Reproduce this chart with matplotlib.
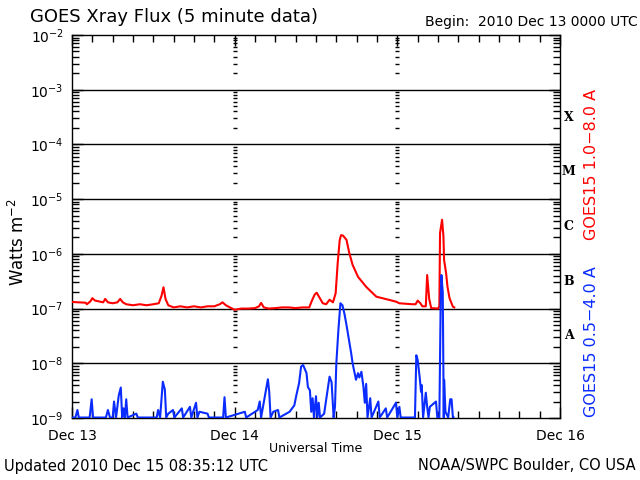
import numpy as np
import matplotlib
matplotlib.use("Agg")
import matplotlib.pyplot as plt
from matplotlib.ticker import LogLocator, FixedLocator, NullFormatter

# hours since 2010 Dec 13 00:00 UTC, flux in W m^-2
F = 1.02e-9  # blue floor (at/below the bottom of the plot)

red_hours = [0, 1, 2, 2.2, 2.7, 3.0, 3.4, 4, 4.6, 4.9, 5.3, 6, 6.7, 7.1, 7.5, 8,
             9, 10, 11, 12, 12.8, 13.2, 13.5, 13.8, 14.2, 15, 16, 17, 18, 19,
             20, 21, 21.8, 22.2, 22.7, 23.3, 24, 25, 26, 27, 27.6, 27.9, 28.3,
             29, 30, 31, 32, 33, 34, 35, 35.4, 35.8, 36.1, 36.5, 37, 37.5, 38,
             38.5, 38.9, 39.2, 39.5, 39.7, 40.0, 40.5, 40.9, 41.4, 42.2, 43.4,
             44.9, 46.8, 47.8, 48.3, 50.2, 50.7, 51.0, 51.4, 51.7, 52.2, 52.4,
             52.7, 53.0, 54.0, 54.2, 54.3, 54.6, 54.8, 54.9, 55.2, 55.4, 55.7,
             56.2, 56.4]
red_flux = [1.32e-7, 1.3e-7, 1.28e-7, 1.2e-7, 1.35e-7, 1.55e-7, 1.4e-7, 1.35e-7,
            1.3e-7, 1.5e-7, 1.3e-7, 1.25e-7, 1.3e-7, 1.5e-7, 1.3e-7, 1.2e-7,
            1.15e-7, 1.2e-7, 1.15e-7, 1.2e-7, 1.25e-7, 1.7e-7, 2.45e-7, 1.5e-7,
            1.15e-7, 1.05e-7, 1.1e-7, 1.05e-7, 1.1e-7, 1.05e-7,
            1.1e-7, 1.1e-7, 1.2e-7, 1.3e-7, 1.15e-7, 1.05e-7, 0.95e-7, 1.0e-7,
            1.0e-7, 1.02e-7, 1.1e-7, 1.27e-7, 1.05e-7,
            1.0e-7, 1.02e-7, 1.05e-7, 1.05e-7, 1.02e-7, 1.05e-7, 1.05e-7, 1.4e-7,
            1.8e-7, 1.95e-7, 1.6e-7, 1.25e-7, 1.2e-7, 1.45e-7,
            1.3e-7, 1.9e-7, 6.8e-7, 1.8e-6, 2.2e-6, 2.15e-6, 1.8e-6, 1.05e-6,
            6.3e-7, 3.8e-7, 2.5e-7,
            1.65e-7, 1.44e-7, 1.34e-7, 1.25e-7, 1.2e-7, 1.2e-7, 1.4e-7, 1.25e-7,
            1.1e-7, 1.1e-7, 4.1e-7,
            1.5e-7, 1.02e-7, 1.0e-7, 1.1e-7, 2.4e-6, 4.2e-6, 2.1e-6, 7.7e-7,
            4.4e-7, 2.5e-7, 1.55e-7,
            1.08e-7, 1.05e-7]

blue_hours = [0, 0.5, 0.8, 1.0, 2.6, 2.9, 3.1, 5.0, 5.3, 5.6, 6.0, 6.2, 6.5, 6.9,
              7.2, 7.4, 7.6, 7.8, 8.0, 8.2, 9.5, 9.7, 12.5, 12.7, 13.0, 13.4, 13.7,
              13.9, 14.2, 14.9, 15.1, 16.2, 16.4, 17.4, 17.6, 18.3, 18.5, 18.8,
              20.0, 20.2, 22.3, 22.5, 22.7, 25.5, 25.7, 27.4, 27.7, 27.9, 28.9,
              29.1, 29.3, 29.7, 30.4, 30.6, 32.1, 32.8, 33.1, 33.5, 33.8, 34.1,
              34.6, 34.8, 35.1, 35.3, 35.5, 35.7, 36.0, 36.2, 36.4, 36.6, 37.2,
              38.0, 38.3, 38.6, 38.8, 39.0, 39.3, 39.6, 39.9, 40.2, 40.5, 40.9,
              41.2, 41.4, 41.9, 42.2, 42.4, 42.7, 43.0, 43.2, 43.4, 43.6, 44.0,
              44.2, 45.2, 45.4, 46.3, 46.5, 47.0, 47.8, 48.0, 48.3, 48.5, 50.6,
              50.8, 51.0, 51.3, 51.5, 51.6, 51.8, 52.2, 52.4, 52.6, 52.8, 53.7,
              53.9, 54.2, 54.4, 54.5, 54.7, 54.85, 54.9, 55.1, 55.5, 55.8, 56.0,
              56.2, 56.3]
blue_flux = [F, F, 1.4e-9, F, F, 2.2e-9, F, F, 1.4e-9, F, F, 2.0e-9, F, 2.6e-9,
             3.6e-9, F, 1.5e-9, F, 2.2e-9, F, 1.2e-9, F, F, 1.4e-9, F, 4.6e-9, 3.3e-9,
             F, 1.2e-9, 1.4e-9, F, 1.5e-9, F, 1.6e-9, F, 1.9e-9, F, 1.3e-9,
             1.2e-9, F, F, 2.4e-9, F, 1.3e-9, F, 1.4e-9, 2.0e-9, F, 5.1e-9,
             3.0e-9, F, 1.3e-9, 1.4e-9, F, 1.3e-9, 1.7e-9, 2.6e-9, 4.3e-9, 8.7e-9, 9.3e-9,
             6.6e-9, 3.7e-9, 3.2e-9, 1.3e-9, 2.3e-9, F, 2.5e-9, F, 1.9e-9, F, 1.2e-9,
             5.7e-9, 4.5e-9, F, 1.6e-9, 1.0e-8, 4.0e-8, 1.25e-7, 1.15e-7, 8.0e-8, 5.0e-8, 2.5e-8,
             1.5e-8, 1.0e-8, 5.0e-9, 6.6e-9, 5.5e-9, 7.0e-9, 3.7e-9, 1.9e-9, 4.2e-9, F, 2.3e-9,
             F, 2.0e-9, F, 1.5e-9, F, 1.3e-9, 1.9e-9, F, 1.6e-9, F, F,
             1.4e-8, 1.15e-8, 5.5e-9, 3.0e-9, 4.0e-9, F, 2.9e-9, 1.6e-9, F, 1.6e-9, 2.0e-9,
             F, F, 1.5e-7, 4.1e-7, 2.0e-7, F, 5.0e-9, 1.3e-9, F, 2.2e-9, 2.2e-9,
             F, F]

day_labels = ["Dec 13", "Dec 14", "Dec 15", "Dec 16"]
class_labels = ["A", "B", "C", "M", "X"]
class_exponents = [-7.5, -6.5, -5.5, -4.5, -3.5]

W, H = 640, 480
fig = plt.figure(figsize=(6.4, 4.8), dpi=100)
ax = fig.add_axes([72 / W, 1 - 418 / H, (560 - 72) / W, (418 - 35) / H])

red_days = np.array(red_hours) / 24.0
blue_days = np.array(blue_hours) / 24.0
ax.plot(red_days, red_flux, color="#ff0000", lw=1.5, zorder=3)
ax.plot(blue_days, blue_flux, color="#0a2cff", lw=1.5, zorder=3)

ax.set_yscale("log")
ax.set_xlim(0, 3)
ax.set_ylim(1e-9, 1e-2)

# decade grid lines
for e in range(-8, -2):
    ax.axhline(10.0 ** e, color="black", lw=1.0, zorder=2)

# y ticks on both sides, inward
ax.yaxis.set_major_locator(LogLocator(base=10, numticks=10))
ax.yaxis.set_minor_locator(LogLocator(base=10, subs=np.arange(2, 10), numticks=20))
ax.yaxis.set_minor_formatter(NullFormatter())
ax.tick_params(axis="y", which="both", direction="in", left=True, right=True,
               labelsize=10, pad=6)
ax.tick_params(axis="y", which="minor", length=5, width=1)
ax.tick_params(axis="y", which="major", length=8, width=1)

# x ticks: days, minor every 3 hours
ax.xaxis.set_major_locator(FixedLocator(range(len(day_labels))))
ax.set_xticklabels(day_labels)
ax.xaxis.set_minor_locator(FixedLocator(np.arange(0, 3.01, 0.125)))
ax.tick_params(axis="x", which="both", direction="in", top=True, bottom=True,
               labelsize=10, pad=8)
ax.tick_params(axis="x", which="major", length=8, width=1)
ax.tick_params(axis="x", which="minor", length=5, width=1)

# y-axis tick marks repeated at the interior day boundaries
minors = [m * 10.0 ** e for e in range(-9, -2) for m in range(2, 10)]
for d in (1, 2):
    ax.hlines(minors, d - 0.013, d + 0.013, color="black", lw=1.0, zorder=2)

for sp in ax.spines.values():
    sp.set_linewidth(1.0)

# flare class letters
for lab, e in zip(class_labels, class_exponents):
    ax.text(1.018, 10.0 ** e, lab, transform=ax.get_yaxis_transform(),
            ha="center", va="center", fontsize=9, fontweight="bold",
            family="DejaVu Serif")

ax.set_ylabel("Watts m$^{-2}$", fontsize=12, labelpad=4)
ax.yaxis.set_label_coords(-0.09, 0.46)

fig.text(30 / W, 1 - 17 / H, "GOES Xray Flux (5 minute data)", fontsize=13,
         va="center", ha="left")
fig.text(638 / W, 1 - 22 / H, "Begin:  2010 Dec 13 0000 UTC", fontsize=10,
         va="center", ha="right")
fig.text(316 / W, 1 - 449 / H, "Universal Time", fontsize=9,
         va="center", ha="center")
fig.text(4 / W, 1 - 466 / H, "Updated 2010 Dec 15 08:35:12 UTC", fontsize=10.5,
         va="center", ha="left")
fig.text(636 / W, 1 - 466 / H, "NOAA/SWPC Boulder, CO USA", fontsize=10.5,
         va="center", ha="right")
fig.text(592 / W, 1 - 164 / H, "GOES15 1.0\u22128.0 A", fontsize=11.5,
         color="#ff0000", rotation=90, va="center", ha="center")
fig.text(592 / W, 1 - 342 / H, "GOES15 0.5\u22124.0 A", fontsize=11.5,
         color="#0a2cff", rotation=90, va="center", ha="center")

fig.savefig("out.png", dpi=100)
